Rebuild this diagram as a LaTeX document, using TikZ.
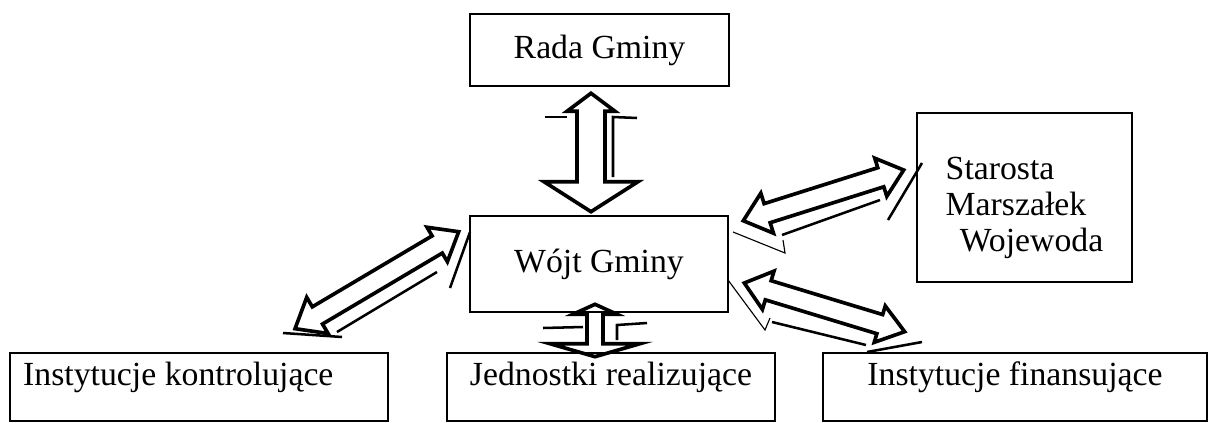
\documentclass[tikz,border=0pt]{standalone}
\usepackage{fontspec}
\setmainfont{Liberation Serif}
\usetikzlibrary{calc}

\tikzset{
	box/.style={draw,line width=1.8pt,inner sep=2pt,font=\fontsize{24}{25.6}\selectfont},
	lowbox/.style={box,text height=20.8pt,text depth=23.6pt,minimum height=1.7cm},
	hollow/.style={draw,line width=2.6pt,line join=miter},
	ghost/.style={line width=1.8pt}
}

\newcommand\dblarrow[7]{%
	\path let \p1=(#1),\p2=(#2) in \pgfextra{%
		\pgfmathsetmacro\arang{atan2(\y2-\y1,\x2-\x1)}%
		\pgfmathsetmacro\arlen{veclen(\x2-\x1,\y2-\y1)/0.711317}%
		\xdef\arang{\arang}\xdef\arlen{\arlen}};
	\draw[hollow,shift={(#1)},rotate=\arang] (0,0) -- (#5,#4) -- (#5,#3) -- (\arlen-#7,#3) -- (\arlen-#7,#6)
		-- (\arlen,0) -- (\arlen-#7,-#6) -- (\arlen-#7,-#3) -- (#5,-#3) -- (#5,-#4) -- cycle;}

\begin{document}
\begin{tikzpicture}[x=0.025cm,y=-0.025cm]
		\path[use as bounding box,fill=white] (0,0) rectangle (1210,422);
		\node[box,minimum width=6.475cm,minimum height=1.8cm] (rada) at (599.5,50) {Rada Gminy};
		\node[box,minimum width=6.45cm,minimum height=2.4cm] (wojt) at (599,264) {Wójt Gminy};
		\node[box,align=left,minimum width=5.375cm,minimum height=4.225cm] (staro) at (1024.5,197.5) {\rule{0pt}{31pt}Starosta\\Marszałek\\\hspace*{10pt}Wojewoda};
		\node[lowbox,minimum width=9.45cm] (kontr) at (199,387) {\makebox[250pt][l]{Instytucje kontrolujące}};
		\node[lowbox,minimum width=8.2cm] (jedn) at (611,387) {Jednostki realizujące};
		\node[lowbox,minimum width=9.6cm] (finan) at (1015,387) {Instytucje finansujące};

		\coordinate (radaTip) at ([shift={(-8.5,6)}]rada.south);
		\coordinate (wojtTop) at ([shift={(-8,-3)}]wojt.north);
		\coordinate (wojtNW) at ([shift={(-10,17)}]wojt.north west);
		\coordinate (kontrTip) at ([shift={(96,-23)}]kontr.north);
		\coordinate (wojtNE) at ([shift={(14,6)}]wojt.north east);
		\coordinate (staroTip) at ([shift={(-12,-27.5)}]staro.west);
		\coordinate (wojtE) at ([shift={(15,19)}]wojt.east);
		\coordinate (finanTip) at ([shift={(83,-20)}]finan.north west);
		\coordinate (wojtBot) at ([shift={(-4,-9)}]wojt.south);
		\coordinate (jednTip) at ([shift={(-16,5)}]jedn.north);

		\dblarrow{radaTip}{wojtTop}{14}{24}{18}{47}{30}
		\dblarrow{wojtNW}{kontrTip}{10}{20}{25}{21}{26}
		\dblarrow{wojtNE}{staroTip}{10}{21}{25}{20}{24}
		\dblarrow{wojtE}{finanTip}{10}{20}{25}{19}{26}
		\dblarrow{wojtBot}{jednTip}{8}{22}{10}{45}{13}

		\draw[ghost] (545,117) -- (567,117);
		\draw[ghost] (637,118) -- (613,117) -- (613,177);
		\draw[ghost] (337,332) -- (437,272);
		\draw[ghost] (450,288) -- (470,232);
		\draw[ghost] (283,333) -- (342,337);
		\draw[ghost] (782,235) -- (880,200);
		\draw[ghost] (888,220) -- (922,163);
		\draw[ghost,line width=0.8pt] (733,232) -- (785,253) -- (783,240);
		\draw[ghost,line width=0.8pt] (728,280) -- (765,330) -- (770,318);
		\draw[ghost] (772,322) -- (866,345);
		\draw[ghost] (867,352) -- (922,342);
		\draw[ghost] (543,328) -- (583,327);
		\draw[ghost] (647,323) -- (617,325) -- (617,340);
	\end{tikzpicture}
\end{document}
